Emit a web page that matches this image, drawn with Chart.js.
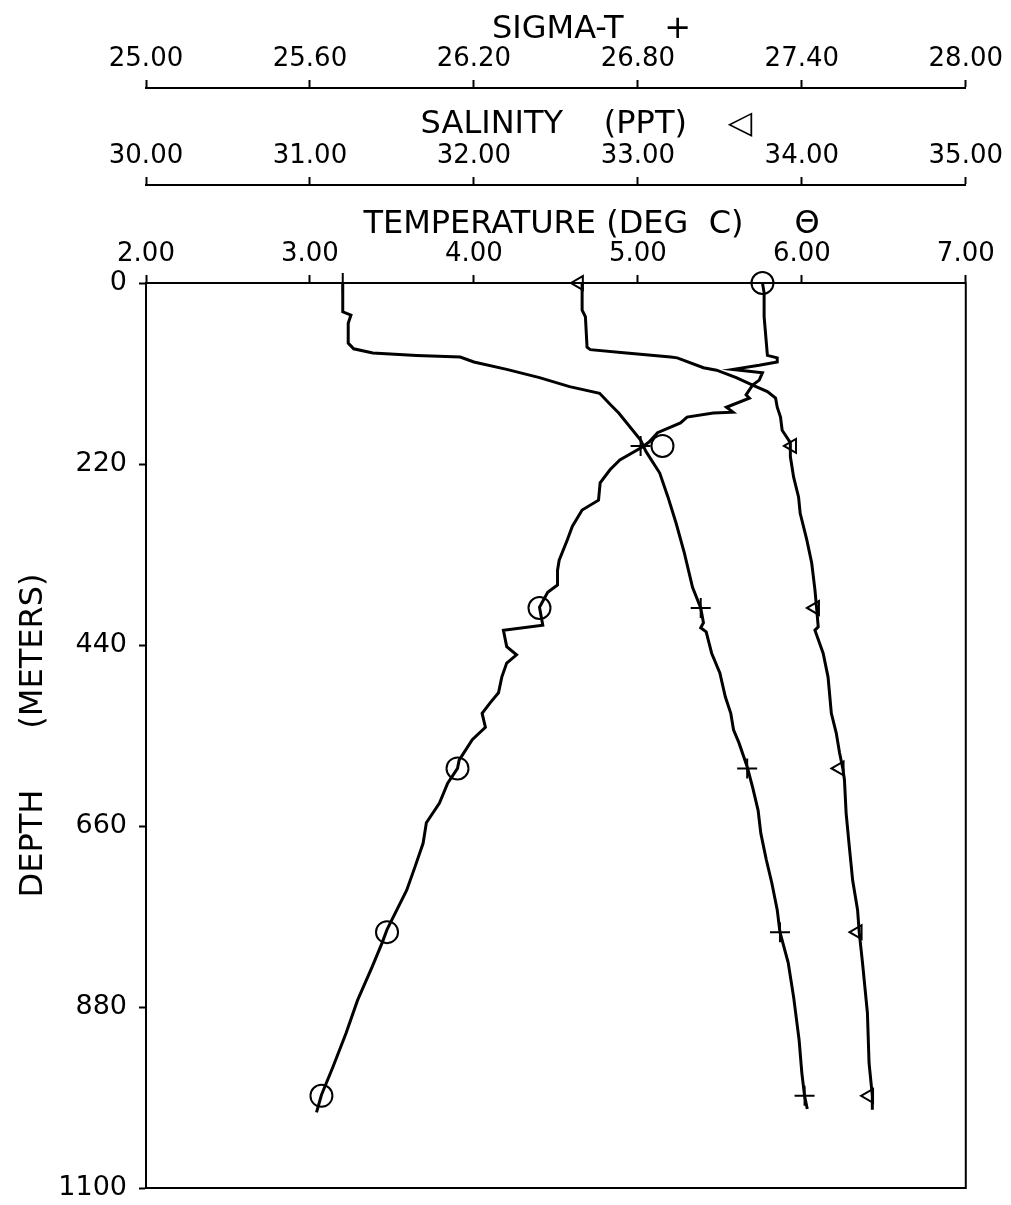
<!DOCTYPE html>
<html>
<head>
<meta charset="utf-8">
<title>CTD profile</title>
<script src="https://cdn.jsdelivr.net/npm/chart.js"></script>
<style>
  html, body { margin: 0; padding: 0; background: #fff; }
  canvas { display: block; }
</style>
</head>
<body>
<canvas id="myChart" width="1011" height="1205"></canvas>
<script>
// depth (m) and value pairs
var tempDepth = [0, 12, 41, 88, 91, 96, 100, 105, 109, 118, 124, 136, 140, 151, 157, 158, 163, 170, 182, 193,
                 199, 215, 227, 243, 264, 276, 296, 312, 337, 349, 367, 376, 394, 416, 422, 442, 452, 462, 479, 498,
                 510, 523, 540, 555, 580, 590, 608, 632, 656, 681, 710, 738, 762, 786, 802, 831, 872, 912, 953, 987, 1008];
var tempVal = [5.76, 5.77, 5.77, 5.79, 5.85, 5.85, 5.74, 5.58, 5.76, 5.74, 5.70, 5.66, 5.68, 5.54, 5.58, 5.46, 5.30, 5.26, 5.12, 5.07,
               5.03, 4.89, 4.83, 4.77, 4.76, 4.66, 4.60, 4.57, 4.52, 4.51, 4.51, 4.45, 4.40, 4.42, 4.18, 4.20, 4.26, 4.20, 4.17, 4.15,
               4.10, 4.05, 4.07, 3.99, 3.91, 3.90, 3.84, 3.79, 3.71, 3.69, 3.64, 3.59, 3.53, 3.47, 3.44, 3.38, 3.29, 3.22, 3.14, 3.07, 3.04];

var salDepth = [0, 33, 41, 78, 81, 85, 90, 91, 103, 106, 115, 124, 132, 140, 151, 163, 179, 194, 211, 236,
                260, 280, 312, 340, 373, 395, 418, 422, 450, 479, 523, 547, 571, 590, 604, 644, 686, 726, 762, 789,
                826, 887, 948, 988, 1005];
var salVal = [32.66, 32.66, 32.68, 32.69, 32.71, 32.93, 33.20, 33.24, 33.40, 33.48, 33.60, 33.70, 33.79, 33.84, 33.85, 33.87, 33.88, 33.93, 33.93, 33.95,
              33.98, 33.99, 34.03, 34.06, 34.08, 34.09, 34.10, 34.08, 34.13, 34.16, 34.18, 34.21, 34.23, 34.25, 34.26, 34.27, 34.29, 34.31, 34.34, 34.35,
              34.37, 34.40, 34.41, 34.43, 34.43];

var sigDepth = [0, 24, 35, 39, 49, 73, 80, 85, 88, 90, 96, 105, 115, 126, 134, 148, 158, 191, 205, 231,
                260, 292, 328, 370, 395, 413, 419, 424, 450, 474, 503, 523, 543, 559, 588, 613, 641, 669, 701, 729,
                762, 789, 826, 868, 920, 960, 988, 1004];
var sigVal = [25.72, 25.72, 25.72, 25.75, 25.74, 25.74, 25.76, 25.83, 25.99, 26.15, 26.20, 26.32, 26.44, 26.55, 26.66, 26.70, 26.73, 26.81, 26.83, 26.88,
              26.91, 26.94, 26.97, 27.00, 27.03, 27.04, 27.03, 27.05, 27.07, 27.10, 27.12, 27.14, 27.15, 27.17, 27.20, 27.22, 27.24, 27.25, 27.27, 27.29,
              27.31, 27.32, 27.35, 27.37, 27.39, 27.40, 27.41, 27.42];

// symbols drawn every ~200 m
var markDepth = [0, 198, 395, 590, 789, 988];
var tempMark = [5.76, 5.15, 4.40, 3.90, 3.47, 3.07];
var salMark = [32.64, 33.94, 34.08, 34.23, 34.34, 34.41];
var sigMark = [25.72, 26.81, 27.03, 27.20, 27.32, 27.41];

// axis ticks
var sigTicks = [25.00, 25.60, 26.20, 26.80, 27.40, 28.00];
var salTicks = [30.00, 31.00, 32.00, 33.00, 34.00, 35.00];
var tempTicks = [2.00, 3.00, 4.00, 5.00, 6.00, 7.00];
var depthTicks = [0, 220, 440, 660, 880, 1100];

var ink = '#000';
Chart.defaults.font.family = '"DejaVu Sans", sans-serif';
Chart.defaults.color = ink;

function pts(vals, depths) {
    return depths.map(function (d, i) { return {x: vals[i], y: d}; });
}

function profile(vals, depths, axis) {
    return {
        data: pts(vals, depths),
        xAxisID: axis,
        yAxisID: 'y',
        showLine: true,
        borderColor: ink,
        borderWidth: 3,
        pointRadius: 0,
        fill: false,
        tension: 0
    };
}

function markers(vals, style, radius, rot, axis) {
    return {
        data: pts(vals, markDepth),
        xAxisID: axis,
        yAxisID: 'y',
        showLine: false,
        pointStyle: style,
        pointRadius: radius,
        pointRotation: rot,
        borderColor: ink,
        backgroundColor: 'rgba(0,0,0,0)',
        pointBorderWidth: 2,
        clip: false
    };
}

function topAxis(title, ticks, weight, boxHeight, titlePad) {
    return {
        type: 'linear',
        position: 'top',
        min: ticks[0],
        max: ticks[ticks.length - 1],
        weight: weight,
        afterBuildTicks: function (axis) {
            axis.ticks = ticks.map(function (v) { return {value: v}; });
        },
        afterFit: function (axis) { axis.height = boxHeight; },
        ticks: {
            autoSkip: false,
            maxRotation: 0,
            padding: 8,
            font: {size: 26, lineHeight: 1},
            callback: function (v) { return Number(v).toFixed(2); }
        },
        grid: {drawOnChartArea: false, tickLength: 8, tickWidth: 2, color: ink},
        border: {display: true, color: ink, width: 2},
        title: {display: true, text: title, font: {size: 32, lineHeight: 1}, padding: {top: titlePad, bottom: 0}}
    };
}

// box round the plotting area
var frame = {
    id: 'frame',
    beforeDatasetsDraw: function (chart) {
        var a = chart.chartArea;
        var ctx = chart.ctx;
        ctx.save();
        ctx.strokeStyle = ink;
        ctx.lineWidth = 2;
        ctx.strokeRect(a.left, a.top, a.right - a.left, a.bottom - a.top);
        ctx.restore();
    }
};

var ctx = document.getElementById('myChart');
var myChart = new Chart(ctx, {
    type: 'scatter',
    data: {
        datasets: [
            profile(tempVal, tempDepth, 'xT'),
            profile(salVal, salDepth, 'xS'),
            profile(sigVal, sigDepth, 'xD'),
            markers(tempMark, 'circle', 11, 0, 'xT'),
            markers(salMark, 'triangle', 8, -90, 'xS'),
            markers(sigMark, 'cross', 10, 0, 'xD')
        ]
    },
    options: {
        responsive: false,
        animation: false,
        events: [],
        layout: {padding: {left: 0, top: 0, right: 45, bottom: 17}},
        plugins: {legend: {display: false}, tooltip: {enabled: false}},
        scales: {
            xD: topAxis('       SIGMA-T    +', sigTicks, 3, 88, 14),
            xS: topAxis('      SALINITY    (PPT)    \u25C1', salTicks, 2, 97, 21),
            xT: topAxis('       TEMPERATURE (DEG  C)     \u0398', tempTicks, 1, 98, 24),
            y: {
                type: 'linear',
                position: 'left',
                reverse: true,
                min: 0,
                max: 1100,
                afterBuildTicks: function (axis) {
                    axis.ticks = depthTicks.map(function (v) { return {value: v}; });
                },
                afterFit: function (axis) {
                    axis.width = 146;
                    // labels fit in the margins already
                    axis.paddingTop = 0;
                    axis.paddingBottom = 0;
                },
                ticks: {
                    autoSkip: false,
                    padding: 12,
                    font: {size: 27, lineHeight: 1},
                    callback: function (v) { return String(v); }
                },
                grid: {drawOnChartArea: false, tickLength: 7, tickWidth: 2, color: ink},
                border: {display: true, color: ink, width: 2},
                title: {display: true, text: 'DEPTH      (METERS)', font: {size: 32, lineHeight: 1}, padding: {top: 18, bottom: 0}}
            }
        }
    },
    plugins: [frame]
});
</script>
</body>
</html>
